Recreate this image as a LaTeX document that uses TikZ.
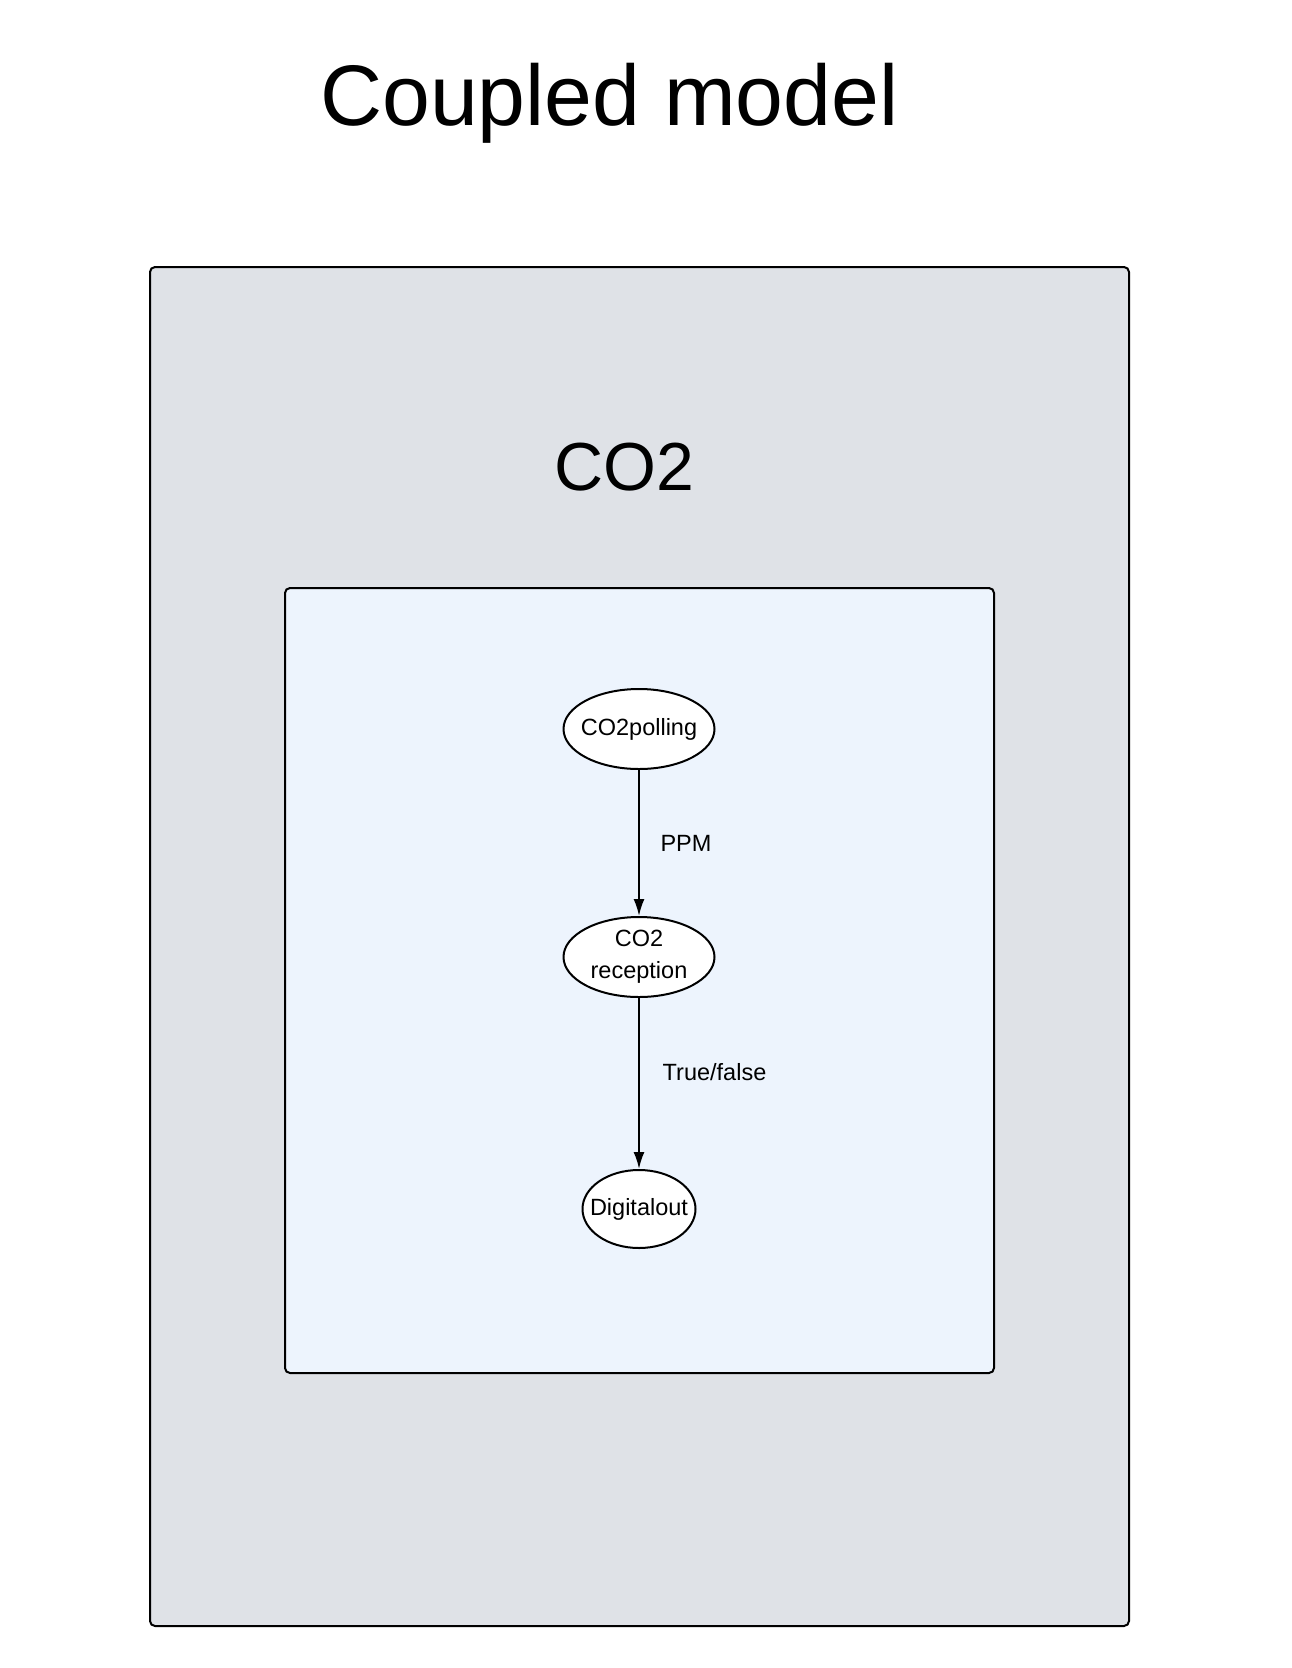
\documentclass[tikz,border=0pt]{standalone}
\usepackage{fontspec}
\setmainfont{Liberation Sans}
\usetikzlibrary{shapes.geometric,arrows.meta}
\definecolor{outerfill}{HTML}{DFE2E7}
\definecolor{innerfill}{HTML}{EDF4FD}
\tikzset{
  boxstyle/.style={draw=black, line width=2pt, rounded corners=5pt},
  statenode/.style={ellipse, draw=black, fill=white, line width=2pt, inner xsep=-10pt, inner ysep=0pt, align=center, font=\fontsize{23.5}{32}\selectfont},
  flow/.style={draw=black, line width=2pt, -{Latex[length=17pt,width=11pt]}},
  flowlabel/.style={font=\fontsize{23.5}{26}\selectfont, inner sep=0pt}
}
\begin{document}
\begin{tikzpicture}[x=1pt,y=-1pt]
\useasboundingbox (0,0) rectangle (1291,1668);
\fill[white] (0,0) rectangle (1291,1668);
\node[anchor=base, font=\fontsize{86}{100}\selectfont, inner sep=0pt] (title) at (609.5,125.5) {Coupled model};
\draw[boxstyle, fill=outerfill] (150,267) rectangle (1129,1626);
\node[anchor=base, font=\fontsize{68}{80}\selectfont, inner sep=0pt] (co2title) at (624,490) {CO2};
\draw[boxstyle, fill=innerfill] (285,588) rectangle (994,1373);
\node[statenode, minimum width=151pt, minimum height=80pt] (poll) at (639,729) {CO2polling};
\node[statenode, minimum width=151pt, minimum height=80pt] (recv) at (639,957) {CO2\\reception};
\node[statenode, minimum width=113pt, minimum height=78pt] (dig) at (639,1209) {Digitalout};
\draw[flow] (poll) -- (recv);
\draw[flow] (recv) -- (dig);
\node[flowlabel] (ppm) at (686,843) {PPM};
\node[flowlabel, anchor=west] (tf) at (662.5,1072) {True/false};
\end{tikzpicture}
\end{document}
